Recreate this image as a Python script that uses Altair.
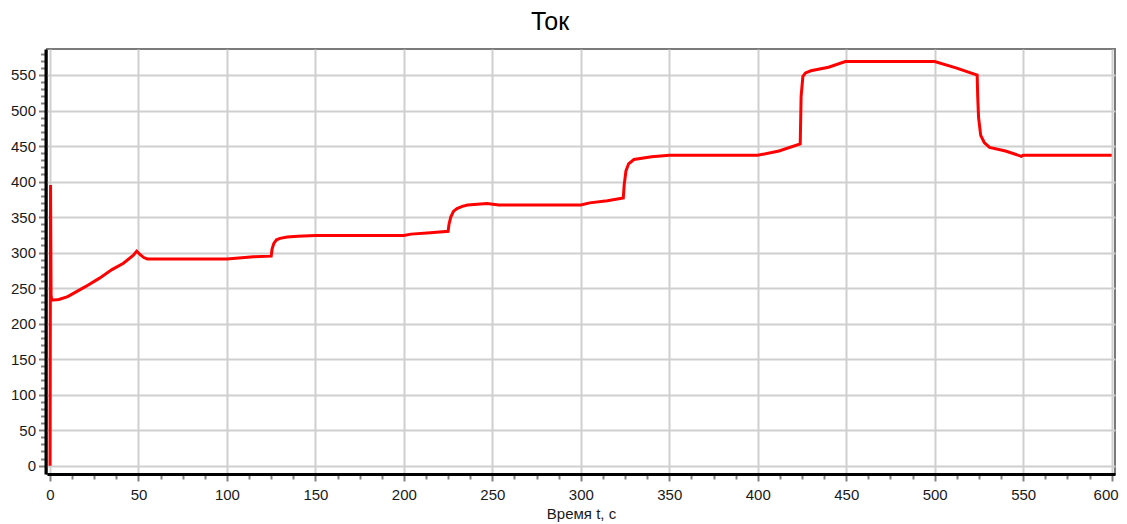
import altair as alt
import pandas as pd

# time, s
t = [0, 0.3, 0.6, 1, 5, 10, 15, 20, 28, 35, 41.5, 47, 49, 51, 53, 55, 60, 100, 105, 115,
     125, 125.5, 126.5, 128, 130, 134, 140, 150, 200, 204, 215, 225, 225.5, 226.5, 228, 230,
     233, 236, 247, 253.6, 300, 305, 315, 324, 324.5, 325.5, 327, 330, 340, 350, 400, 412,
     424, 424.5, 425.5, 427, 430, 440, 449.5, 500, 512, 524, 524.3, 524.8, 526, 528, 531,
     540, 549, 550, 600]
# current
current = [0, 395, 240, 233, 234, 238, 245, 252, 264, 276, 285, 296, 302, 297, 293, 291, 291,
           291, 292, 294, 295, 305, 313, 318, 320, 322, 323, 324, 324, 326, 328, 330, 340, 350,
           358, 362, 365, 367, 369, 367, 367, 370, 373, 377, 395, 415, 425, 431, 435, 437, 437,
           443, 453, 520, 548, 553, 556, 561, 569, 569, 560, 550, 520, 490, 465, 455, 448, 443,
           435.5, 437, 437]

x_ticks = [i * 12.5 for i in range(49)]
y_ticks = list(range(0, 590, 10))

df = pd.DataFrame({"t": t, "I": current})

FONT = "Liberation Sans"

chart = alt.Chart(df).mark_line(color="#ff0000", strokeWidth=3, clip=True).encode(
    x=alt.X("t:Q",
            scale=alt.Scale(domain=[-1.7, 601.9], nice=False, zero=False),
            axis=alt.Axis(
                values=x_ticks,
                labelExpr="datum.value % 50 === 0 ? datum.label : ''",
                labelOffset={"condition": {"test": "datum.value === 600", "value": -6}, "value": 0},
                gridOpacity={"condition": {"test": "datum.value % 50 === 0", "value": 1}, "value": 0},
                tickSize={"condition": {"test": "datum.value % 50 === 0", "value": 7}, "value": 5},
                title="Время t, с",
                titlePadding=4,
                labelPadding=6,
                domainColor="black", domainWidth=3,
                tickColor="#808080", tickWidth=2,
            )),
    y=alt.Y("I:Q",
            scale=alt.Scale(domain=[-11.7, 586.6], nice=False, zero=False),
            axis=alt.Axis(
                values=y_ticks,
                labelExpr="datum.value % 50 === 0 ? datum.label : ''",
                gridOpacity={"condition": {"test": "datum.value % 50 === 0", "value": 1}, "value": 0},
                tickSize={"condition": {"test": "datum.value % 50 === 0", "value": 7}, "value": 5},
                title=None,
                offset=1.5,
                labelPadding=3,
                domainColor="black", domainWidth=3,
                tickColor="#808080", tickWidth=2,
            )),
).properties(
    width=1068, height=425,
    title=alt.TitleParams("Ток", fontSize=25, font=FONT, fontWeight="normal",
                          color="black", dx=-31, offset=14),
    autosize=alt.AutoSizeParams(type="none"),
    padding={"left": 39, "top": 41, "right": 4, "bottom": 50},
).configure_view(
    stroke="#7a7a7a", strokeWidth=2
).configure_axis(
    labelFont=FONT, labelFontSize=15, labelColor="#1a1a1a",
    titleFont=FONT, titleFontSize=15, titleFontWeight="normal", titleColor="#1a1a1a",
    gridColor="#cfcfcf", gridWidth=2,
)

chart.save("out.html", embed_options={"renderer": "svg", "actions": False})
